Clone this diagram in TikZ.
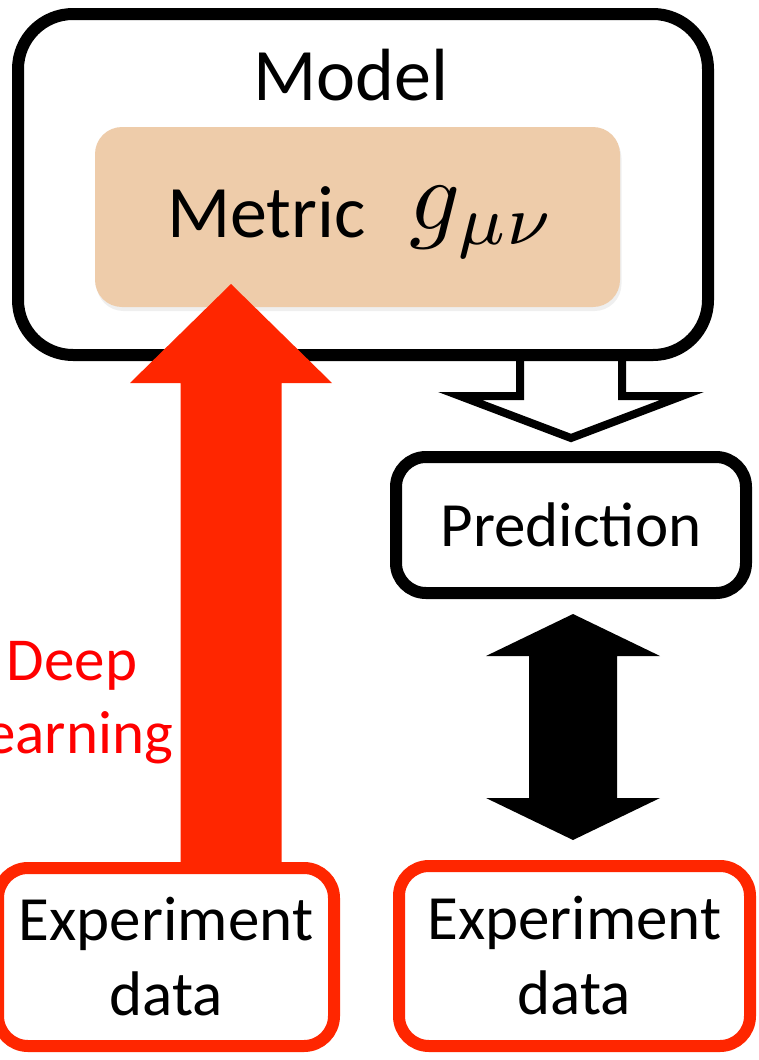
\documentclass[tikz,border=0pt]{standalone}
\usepackage{graphicx}
\usepackage{fontspec}
\setmainfont{Carlito}
\usepackage{tikz}
\usetikzlibrary{calc,shadows}
\definecolor{redc}{HTML}{FF2600}
\definecolor{txtred}{HTML}{FF0000}
\definecolor{tanc}{HTML}{EECCAA}
\tikzset{
  frame/.style={draw=black,line width=12pt,fill=white,inner sep=0pt,align=center},
  expbox/.style={draw=redc,line width=12pt,rounded corners=30pt,fill=white,inner sep=0pt,align=center,font=\fontsize{63}{75}\selectfont},
  metbox/.style={fill=tanc,rounded corners=27pt,inner sep=0pt,drop shadow={shadow xshift=1.5pt,shadow yshift=-4pt,opacity=0.12}},
  harr/.style={draw=black,line width=8pt,miter limit=10}
}
\begin{document}
\begin{tikzpicture}[x=1pt,y=-1pt]
\useasboundingbox (0,0) rectangle (759,1060);
% model with metric
\node[frame,rounded corners=55pt,minimum width=690pt,minimum height=341pt] (model) at (363,184.5) {};
\node[inner sep=0pt,anchor=base,font=\fontsize{74}{88}\selectfont] (modeltxt) at (351,100) {Model};
\node[metbox,minimum width=525pt,minimum height=180pt,text height=48pt,text depth=8pt,font=\fontsize{74}{88}\selectfont] (metric) at (357.5,217)
  {\hspace*{8pt}Metric\hspace{44pt}\raisebox{8pt}{\scalebox{10}{\normalsize$g_{\mu\nu}$}}};
% prediction and data
\node[frame,rounded corners=30pt,minimum width=350pt,minimum height=136pt,font=\fontsize{63}{75}\selectfont] (prediction) at (571,525) {Prediction};
\node[expbox,minimum width=336pt,minimum height=178pt] (expleft) at (166,957) {Experiment\\data};
\node[expbox,minimum width=351pt,minimum height=180pt] (expright) at (574.5,956) {Experiment\\data};
\node[text=txtred,align=center,inner sep=0pt,font=\fontsize{61}{73}\selectfont] (dl) at (72,703) {Deep\\learning};
% red arrow: data -> metric
\coordinate (dltip) at (231,284);
\coordinate (dlbase) at (dltip |- expleft.north);
\fill[redc] ($(dlbase)+(-50.5,0)$) -- ($(dltip)+(-50.5,99)$) -- ($(dltip)+(-101,99)$) -- (dltip)
  -- ($(dltip)+(101,99)$) -- ($(dltip)+(50.5,99)$) -- ($(dlbase)+(50.5,0)$) -- cycle;
% hollow arrow: model -> prediction
\coordinate (pstart) at (prediction.north |- model.south);
\coordinate (ptip) at ($(prediction.north)+(0,-13)$);
\draw[harr] ($(pstart)+(-51,0)$) -- ($(ptip)+(-51,-42)$) -- ($(ptip)+(-111,-42)$) -- (ptip)
  -- ($(ptip)+(111,-42)$) -- ($(ptip)+(51,-42)$) -- ($(pstart)+(51,0)$);
% double arrow: prediction <-> data
\coordinate (dtop) at ($(prediction.south)+(2,15)$);
\coordinate (dbot) at ($(dtop |- expright.north)+(0,-20)$);
\fill[black] (dtop) -- ($(dtop)+(87,42)$) -- ($(dtop)+(44,42)$) -- ($(dbot)+(44,-42)$) -- ($(dbot)+(87,-42)$) -- (dbot)
  -- ($(dbot)+(-87,-42)$) -- ($(dbot)+(-44,-42)$) -- ($(dtop)+(-44,42)$) -- ($(dtop)+(-87,42)$) -- cycle;
\end{tikzpicture}
\end{document}
